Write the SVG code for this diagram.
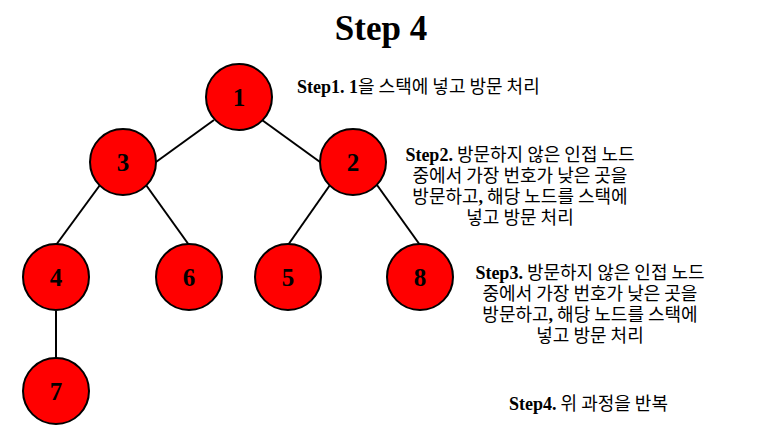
<svg xmlns="http://www.w3.org/2000/svg" width="781" height="447" viewBox="0 0 781 447">
<style>
.node circle{fill:#ff0000;stroke:#000;stroke-width:2}
.node text{font-family:"Liberation Serif",serif;font-weight:bold;font-size:25px;text-anchor:middle;fill:#000}
.edges line{stroke:#000;stroke-width:2}
.t{font-family:"Noto Sans CJK KR","Noto Sans",sans-serif;font-size:18px;fill:#000}
.b{font-family:"Liberation Serif",serif;font-weight:bold}
.c{text-anchor:middle}
</style>
<rect width="781" height="447" fill="#fff"/>
<text x="381" y="40" text-anchor="middle" font-family="Liberation Serif,serif" font-weight="bold" font-size="35">Step 4</text>
<g class="edges">
<line x1="214" y1="120" x2="156" y2="162"/>
<line x1="262" y1="120" x2="320" y2="162"/>
<line x1="100" y1="185" x2="56" y2="245"/>
<line x1="146" y1="185" x2="189" y2="245"/>
<line x1="330" y1="185" x2="288" y2="245"/>
<line x1="377" y1="185" x2="420" y2="245"/>
<line x1="56" y1="311" x2="56" y2="359"/>
</g>
<g id="n1" class="node"><circle cx="239" cy="97" r="33"/><text x="239" y="106">1</text></g>
<g id="n3" class="node"><circle cx="123" cy="162" r="33"/><text x="123" y="171">3</text></g>
<g id="n2" class="node"><circle cx="353" cy="162" r="33"/><text x="353" y="171">2</text></g>
<g id="n4" class="node"><circle cx="56" cy="277" r="33"/><text x="56" y="286">4</text></g>
<g id="n6" class="node"><circle cx="189" cy="277" r="33"/><text x="189" y="286">6</text></g>
<g id="n5" class="node"><circle cx="288" cy="277" r="33"/><text x="288" y="286">5</text></g>
<g id="n8" class="node"><circle cx="420" cy="277" r="33"/><text x="420" y="286">8</text></g>
<g id="n7" class="node"><circle cx="56" cy="391" r="33"/><text x="56" y="400">7</text></g>
<text class="t" x="297" y="93"><tspan class="b">Step1. 1</tspan>을 스택에 넣고 방문 처리</text>
<text class="t c"><tspan x="520" y="161"><tspan class="b">Step2.</tspan> 방문하지 않은 인접 노드</tspan><tspan x="520" y="182">중에서 가장 번호가 낮은 곳을</tspan><tspan x="520" y="203">방문하고<tspan class="b">,</tspan> 해당 노드를 스택에</tspan><tspan x="520" y="224">넣고 방문 처리</tspan></text>
<text class="t c"><tspan x="590" y="279"><tspan class="b">Step3.</tspan> 방문하지 않은 인접 노드</tspan><tspan x="590" y="300">중에서 가장 번호가 낮은 곳을</tspan><tspan x="590" y="321">방문하고<tspan class="b">,</tspan> 해당 노드를 스택에</tspan><tspan x="590" y="342">넣고 방문 처리</tspan></text>
<text class="t" x="509" y="410"><tspan class="b">Step4.</tspan> 위 과정을 반복</text>
</svg>
